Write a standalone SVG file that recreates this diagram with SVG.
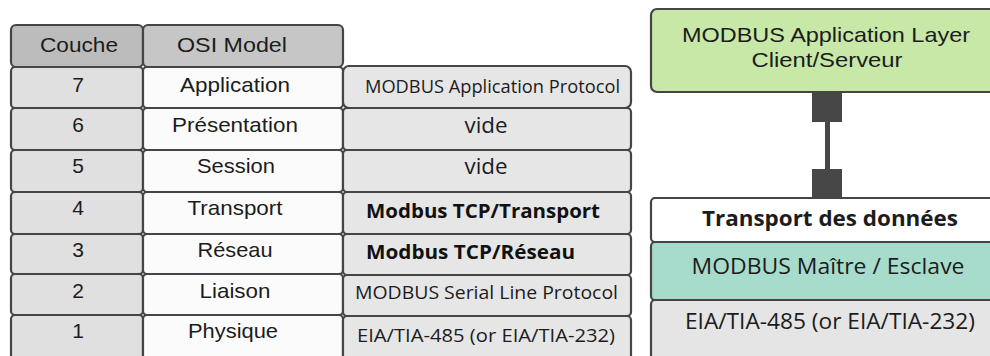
<svg xmlns="http://www.w3.org/2000/svg" width="990" height="356" viewBox="0 0 990 356">
<style>
.cell{stroke:#454545;stroke-width:2.2}
.hdr1{fill:#bcbcbc}
.hdr2{fill:#c6c6c6}
.num{fill:#e0e0e0}
.osi{fill:#fbfbfb}
.pro{fill:#e6e6e6}
.t{font-family:"Liberation Sans",Arial,sans-serif;font-size:21px;fill:#1c1c1c;text-anchor:middle}
.p{font-family:"Open Sans","Liberation Sans",sans-serif;font-size:19px;fill:#1c1c1c}
.pb{font-family:"Open Sans","Liberation Sans",sans-serif;font-size:19px;font-weight:bold;fill:#111}
.r{font-family:"Open Sans","Liberation Sans",sans-serif;font-size:21px;fill:#1c1c1c;text-anchor:middle}
.conn{fill:#474747}
</style>
<rect width="990" height="356" fill="#ffffff"/>

<g id="couche-header"><rect class="cell hdr1" x="11" y="25" width="132" height="42" rx="5"/><text class="t" x="79" y="52" textLength="78" lengthAdjust="spacingAndGlyphs">Couche</text></g>
<g id="osi-header"><rect class="cell hdr2" x="143" y="25" width="200" height="42" rx="5"/><text class="t" x="232" y="52" textLength="110" lengthAdjust="spacingAndGlyphs">OSI Model</text></g>

<g id="layer7">
<rect class="cell num" x="11" y="67" width="132" height="41" rx="4"/><text class="t" x="78" y="92">7</text>
<rect class="cell osi" x="143" y="67" width="200" height="41" rx="4"/><text class="t" x="235" y="92" textLength="110" lengthAdjust="spacingAndGlyphs">Application</text>
<rect class="cell pro" x="343" y="66" width="288" height="42" rx="6"/><text class="p" x="365" y="93" textLength="255" lengthAdjust="spacingAndGlyphs">MODBUS Application Protocol</text>
</g>
<g id="layer6">
<rect class="cell num" x="11" y="108" width="132" height="42" rx="4"/><text class="t" x="78" y="132">6</text>
<rect class="cell osi" x="143" y="108" width="200" height="42" rx="4"/><text class="t" x="235" y="132" textLength="126" lengthAdjust="spacingAndGlyphs">Présentation</text>
<rect class="cell pro" x="343" y="108" width="288" height="42" rx="4"/><text class="r" x="486" y="133" textLength="43" lengthAdjust="spacingAndGlyphs">vide</text>
</g>
<g id="layer5">
<rect class="cell num" x="11" y="150" width="132" height="42" rx="4"/><text class="t" x="78" y="173">5</text>
<rect class="cell osi" x="143" y="150" width="200" height="42" rx="4"/><text class="t" x="236" y="173" textLength="78" lengthAdjust="spacingAndGlyphs">Session</text>
<rect class="cell pro" x="343" y="150" width="288" height="42" rx="4"/><text class="r" x="486" y="174" textLength="43" lengthAdjust="spacingAndGlyphs">vide</text>
</g>
<g id="layer4">
<rect class="cell num" x="11" y="192" width="132" height="42" rx="4"/><text class="t" x="78" y="215">4</text>
<rect class="cell osi" x="143" y="192" width="200" height="42" rx="4"/><text class="t" x="235" y="215" textLength="95" lengthAdjust="spacingAndGlyphs">Transport</text>
<rect class="cell pro" x="343" y="192" width="288" height="42" rx="4"/><text class="pb" x="366" y="218" textLength="234" lengthAdjust="spacingAndGlyphs">Modbus TCP/Transport</text>
</g>
<g id="layer3">
<rect class="cell num" x="11" y="234" width="132" height="40" rx="4"/><text class="t" x="78" y="257">3</text>
<rect class="cell osi" x="143" y="234" width="200" height="40" rx="4"/><text class="t" x="235" y="257" textLength="75" lengthAdjust="spacingAndGlyphs">Réseau</text>
<rect class="cell pro" x="343" y="234" width="288" height="41" rx="4"/><text class="pb" x="366" y="259" textLength="209" lengthAdjust="spacingAndGlyphs">Modbus TCP/Réseau</text>
</g>
<g id="layer2">
<rect class="cell num" x="11" y="274" width="132" height="41" rx="4"/><text class="t" x="78" y="298">2</text>
<rect class="cell osi" x="143" y="274" width="200" height="41" rx="4"/><text class="t" x="235" y="298" textLength="71" lengthAdjust="spacingAndGlyphs">Liaison</text>
<rect class="cell pro" x="343" y="275" width="288" height="41" rx="4"/><text class="p" x="355" y="299" textLength="263" lengthAdjust="spacingAndGlyphs">MODBUS Serial Line Protocol</text>
</g>
<g id="layer1">
<rect class="cell num" x="11" y="315" width="132" height="48" rx="4"/><text class="t" x="78" y="338">1</text>
<rect class="cell osi" x="143" y="315" width="200" height="48" rx="4"/><text class="t" x="233" y="338" textLength="90" lengthAdjust="spacingAndGlyphs">Physique</text>
<rect class="cell pro" x="343" y="316" width="288" height="48" rx="4"/><text class="p" x="357" y="342" textLength="258" lengthAdjust="spacingAndGlyphs">EIA/TIA-485 (or EIA/TIA-232)</text>
</g>

<g id="app-layer">
<rect class="cell" x="651" y="9" width="360" height="83" rx="6" fill="#c7e8a7"/>
<text class="t" x="826" y="42" font-size="22" textLength="288" lengthAdjust="spacingAndGlyphs">MODBUS Application Layer</text>
<text class="t" x="827" y="67" font-size="22" textLength="151" lengthAdjust="spacingAndGlyphs">Client/Serveur</text>
</g>

<g id="connectors">
<rect class="conn" x="812" y="92" width="30" height="30"/>
<rect class="conn" x="825" y="120" width="5" height="52"/>
<rect class="conn" x="812" y="169" width="30" height="29"/>
</g>

<g id="transport">
<rect class="cell" x="651" y="198" width="360" height="44" rx="4" fill="#ffffff"/>
<text class="r" x="830" y="226" font-weight="bold" fill="#111" textLength="256" lengthAdjust="spacingAndGlyphs">Transport des données</text>
</g>
<g id="master-slave">
<rect class="cell" x="651" y="242" width="360" height="58" rx="4" fill="#a7dccc"/>
<text class="r" x="828" y="274" textLength="273" lengthAdjust="spacingAndGlyphs">MODBUS Maître / Esclave</text>
</g>
<g id="physical">
<rect class="cell" x="651" y="300" width="360" height="64" rx="4" fill="#e5e5e5"/>
<text class="r" x="830" y="329" textLength="290" lengthAdjust="spacingAndGlyphs">EIA/TIA-485 (or EIA/TIA-232)</text>
</g>
</svg>
